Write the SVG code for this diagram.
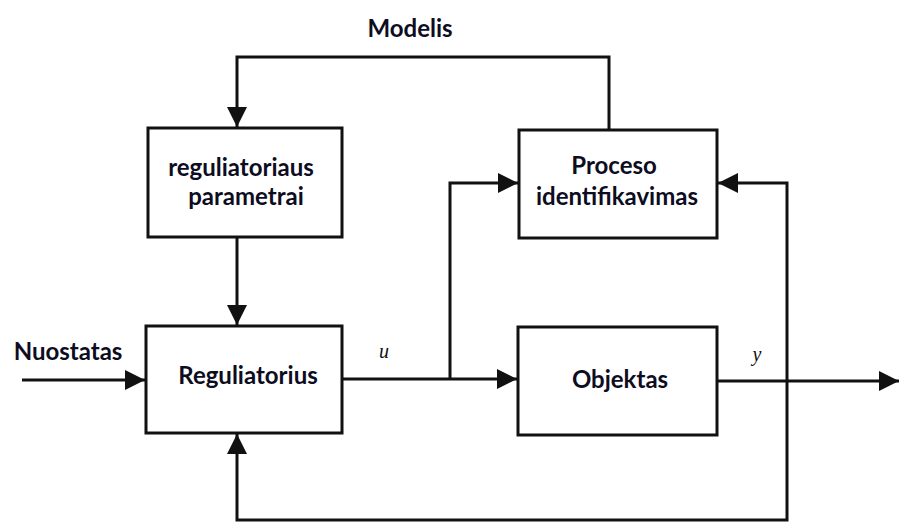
<svg xmlns="http://www.w3.org/2000/svg" width="899" height="523" viewBox="0 0 899 523">
<style>
.box{fill:#fff;stroke:#111;stroke-width:3}
.ln{fill:none;stroke:#111;stroke-width:3}
.t{font-family:Lato,"Open Sans",sans-serif;font-weight:bold;font-size:24px;fill:#0d0d1f;text-anchor:middle}
.v{font-family:"Liberation Serif",serif;font-style:italic;font-size:20px;fill:#111;text-anchor:middle}
</style>
<defs>
<marker id="ah" viewBox="0 0 20 20" refX="20" refY="10" markerWidth="20" markerHeight="20" markerUnits="userSpaceOnUse" orient="auto">
<path d="M0,0 L20,10 L0,20 Z" fill="#111"/>
</marker>
</defs>
<g id="connectors">
<path class="ln" d="M609,130 V57 H237 V127" marker-end="url(#ah)"/>
<path class="ln" d="M237,237 V325" marker-end="url(#ah)"/>
<path class="ln" d="M22,380 H145" marker-end="url(#ah)"/>
<path class="ln" d="M342,379 H517" marker-end="url(#ah)"/>
<path class="ln" d="M450,379 V183 H518" marker-end="url(#ah)"/>
<path class="ln" d="M717,381 H899" marker-end="url(#ah)"/>
<path class="ln" d="M787,381 V520 H237 V434" marker-end="url(#ah)"/>
<path class="ln" d="M787,381 V183 H718" marker-end="url(#ah)"/>
</g>
<g id="modelis"><text class="t" x="410" y="37">Modelis</text></g>
<g id="reg-param">
<rect class="box" x="148" y="128" width="194" height="109"/>
<text class="t" x="241" y="176">reguliatoriaus</text>
<text class="t" x="246" y="205">parametrai</text>
</g>
<g id="proceso">
<rect class="box" x="519" y="130" width="198" height="108"/>
<text class="t" x="614" y="174">Proceso</text>
<text class="t" x="617" y="205">identifikavimas</text>
</g>
<g id="reguliatorius">
<rect class="box" x="146" y="326" width="196" height="107"/>
<text class="t" x="248" y="384">Reguliatorius</text>
</g>
<g id="objektas">
<rect class="box" x="518" y="327" width="199" height="108"/>
<text class="t" x="620" y="388">Objektas</text>
</g>
<g id="labels">
<text class="t" x="68" y="360">Nuostatas</text>
<text class="v" x="384" y="358">u</text>
<text class="v" x="757" y="361">y</text>
</g>
</svg>
